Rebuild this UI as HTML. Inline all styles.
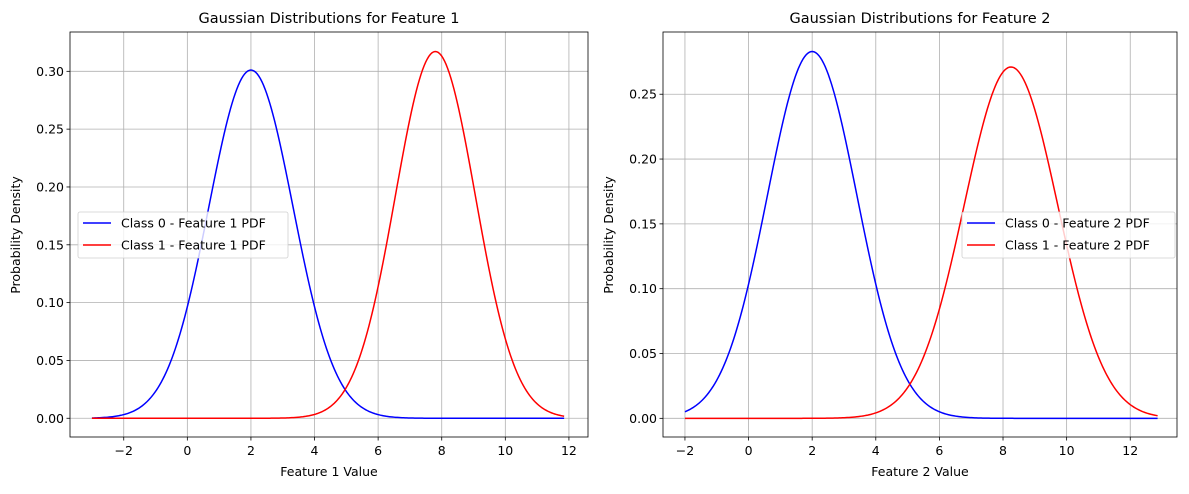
<!DOCTYPE html>
<html><head><meta charset="utf-8"><style>
body{margin:0;background:#fff;font-family:"DejaVu Sans","Liberation Sans",sans-serif;}
svg text{font-family:"DejaVu Sans","Liberation Sans",sans-serif;fill:#000;}
</style></head><body>
<svg id="c" width="1189" height="490"></svg>
<script>
const plotTitles=["Gaussian Distributions for Feature 1","Gaussian Distributions for Feature 2"];
const xLabels=["Feature 1 Value","Feature 2 Value"];
const seriesNames=[["Class 0 - Feature 1 PDF","Class 1 - Feature 1 PDF"],["Class 0 - Feature 2 PDF","Class 1 - Feature 2 PDF"]];
const classMeans=[[2.0,7.8],[2.0,8.25]];
const classStds=[[1.325,1.258],[1.41,1.472]];
const xRanges=[[-3,11.85],[-2,12.86]];
const xTicks=[[-2,0,2,4,6,8,10,12],[-2,0,2,4,6,8,10,12]];
const yTicks=[[0,0.05,0.10,0.15,0.20,0.25,0.30],[0,0.05,0.10,0.15,0.20,0.25]];
const colors=["#0000ff","#ff0000"];
const NS="http://www.w3.org/2000/svg";
const svg=document.getElementById('c');
function mk(t,a,p){const e=document.createElementNS(NS,t);for(const k in a)e.setAttribute(k,a[k]);(p||svg).appendChild(e);return e;}
const boxes=[{l:70,r:588,t:32,b:437,xmin:-3.69,xmax:12.60,ymin:-0.0162,ymax:0.334,leg:[78,212]},
             {l:663,r:1177,t:32,b:437,xmin:-2.69,xmax:13.47,ymin:-0.0144,ymax:0.298,leg:[962,212]}];
function fmtT(v){return v<0?"\u2212"+Math.abs(v):String(v);}
boxes.forEach((B,i)=>{
  const g=mk('g',{});
  
  
  const X=v=>B.l+(v-B.xmin)/(B.xmax-B.xmin)*(B.r-B.l);
  const Y=v=>B.b-(v-B.ymin)/(B.ymax-B.ymin)*(B.b-B.t);
  xTicks[i].forEach(v=>{const x=X(v);
    const gl=mk('line',{x1:x,x2:x,y1:B.t,y2:B.b,stroke:'#b0b0b0','stroke-width':0.8},g);
    
    mk('line',{x1:x,x2:x,y1:B.b,y2:B.b+3.5,stroke:'#000','stroke-width':0.8},g);
    const t=mk('text',{x:x,y:B.b+18,'text-anchor':'middle','font-size':12.5},g);t.textContent=fmtT(v);
    });
  yTicks[i].forEach(v=>{const y=Y(v);
    const gl=mk('line',{x1:B.l,x2:B.r,y1:y,y2:y,stroke:'#b0b0b0','stroke-width':0.8},g);
    
    mk('line',{x1:B.l-3.5,x2:B.l,y1:y,y2:y,stroke:'#000','stroke-width':0.8},g);
    const t=mk('text',{x:B.l-6,y:y+4.5,'text-anchor':'end','font-size':12.5},g);t.textContent=v.toFixed(2);
    });
  [0,1].forEach(k=>{
    const m=classMeans[i][k],s=classStds[i][k];const [a,b]=xRanges[i];let d='';
    for(let j=0;j<=300;j++){const xv=a+(b-a)*j/300;const yv=Math.exp(-0.5*((xv-m)/s)**2)/(s*Math.sqrt(2*Math.PI));
      d+=(j?'L':'M')+X(xv).toFixed(2)+','+Y(yv).toFixed(2);}
    const p=mk('path',{d:d,fill:'none',stroke:colors[k],'stroke-width':1.5},g);
    
  });
  const fr=mk('rect',{x:B.l,y:B.t,width:B.r-B.l,height:B.b-B.t,fill:'none',stroke:'#000','stroke-width':0.8},g);
  
  const tt=mk('text',{x:(B.l+B.r)/2,y:23,'text-anchor':'middle','font-size':14.5},g);tt.textContent=plotTitles[i];
  
  const xl=mk('text',{x:(B.l+B.r)/2,y:476,'text-anchor':'middle','font-size':12.5},g);xl.textContent=xLabels[i];
  
  const yx=i?613:20;
  const yl=mk('text',{x:yx,y:235,'text-anchor':'middle','font-size':12.5,transform:'rotate(-90 '+yx+' 235)'},g);yl.textContent='Probability Density';
  
  const lg=mk('g',{},g);
  
  const [lx,ly]=B.leg;
  mk('rect',{x:lx,y:ly,width:i?213:210,height:46,rx:2,fill:'#fff','fill-opacity':0.8,stroke:'#d0d0d0','stroke-width':0.8},lg);
  [0,1].forEach(k=>{const yy=ly+11+k*22;
    mk('line',{x1:lx+5,x2:lx+33,y1:yy,y2:yy,stroke:colors[k],'stroke-width':1.5},lg);
    const t=mk('text',{x:lx+43,y:yy+4.5,'font-size':12.5},lg);t.textContent=seriesNames[i][k];
    });
});
</script>
</body></html>
